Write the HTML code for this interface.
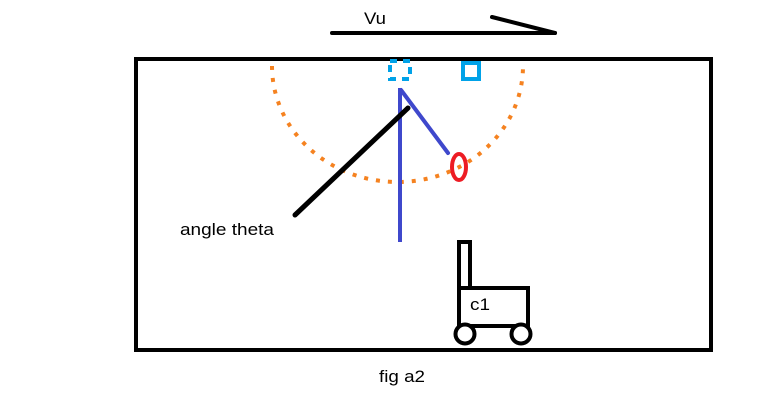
<!DOCTYPE html>
<html><head><meta charset="utf-8"><style>
html,body{margin:0;padding:0;background:#fff;width:771px;height:410px;overflow:hidden}
text{font-family:"Liberation Sans",sans-serif;font-size:17px;fill:#000}
</style></head><body>
<svg width="771" height="410" viewBox="0 0 771 410" xmlns="http://www.w3.org/2000/svg">
<line x1="332" y1="33" x2="555" y2="33" stroke="#000" stroke-width="4" stroke-linecap="round"/>
<line x1="492" y1="17" x2="555" y2="33" stroke="#000" stroke-width="4" stroke-linecap="round"/>
<text x="364" y="24" textLength="22" lengthAdjust="spacingAndGlyphs">Vu</text>
<rect x="136" y="59" width="575" height="291" fill="none" stroke="#000" stroke-width="4"/>
<path d="M272 66 A125.5 116 0 0 0 523 66" fill="none" stroke="#f58220" stroke-width="4" stroke-dasharray="4 8"/>
<rect x="390" y="61" width="20" height="18" fill="none" stroke="#00a2e8" stroke-width="4" stroke-dasharray="7 6"/>
<rect x="463" y="63" width="16" height="16" fill="none" stroke="#00a2e8" stroke-width="4"/>
<line x1="400" y1="88" x2="400" y2="242" stroke="#3f48cc" stroke-width="4"/>
<line x1="401" y1="90" x2="448" y2="153" stroke="#3f48cc" stroke-width="4" stroke-linecap="round"/>
<ellipse cx="459" cy="167" rx="7" ry="13" fill="none" stroke="#ed1c24" stroke-width="4"/>
<line x1="295" y1="215" x2="408" y2="108" stroke="#000" stroke-width="5" stroke-linecap="round"/>
<text x="180" y="235" textLength="94" lengthAdjust="spacingAndGlyphs">angle theta</text>
<rect x="459" y="242" width="11" height="46" fill="none" stroke="#000" stroke-width="4"/>
<rect x="459" y="288" width="69" height="38" fill="none" stroke="#000" stroke-width="4"/>
<text x="470" y="310" textLength="20" lengthAdjust="spacingAndGlyphs">c1</text>
<circle cx="465" cy="334" r="9.5" fill="#fff" stroke="#000" stroke-width="4"/>
<circle cx="521" cy="334" r="9.5" fill="#fff" stroke="#000" stroke-width="4"/>
<text x="379" y="382" textLength="46" lengthAdjust="spacingAndGlyphs">fig a2</text>
</svg>
</body></html>
